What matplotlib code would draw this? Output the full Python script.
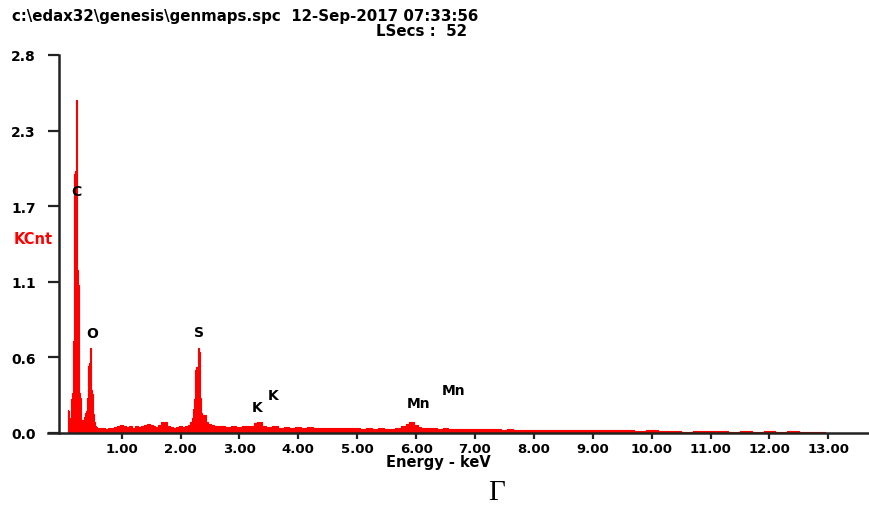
import matplotlib.pyplot as plt

# EDS spectrum (energy in keV, counts in KCnt)
energy = [0.08, 0.09, 0.10, 0.11, 0.12, 0.13, 0.14, 0.15, 0.16, 0.17,
          0.18, 0.19, 0.20, 0.21, 0.22, 0.23, 0.24, 0.25, 0.26, 0.27,
          0.28, 0.29, 0.30, 0.31, 0.32, 0.33, 0.34, 0.35, 0.36, 0.37,
          0.38, 0.39, 0.40, 0.41, 0.42, 0.43, 0.44, 0.45, 0.46, 0.47,
          0.48, 0.49, 0.50, 0.51, 0.52, 0.53, 0.54, 0.55, 0.56, 0.58,
          0.60, 0.65, 0.70, 0.75, 0.80, 0.85, 0.90, 0.95, 1.00, 1.05,
          1.10, 1.15, 1.20, 1.25, 1.30, 1.35, 1.40, 1.45, 1.50, 1.55,
          1.60, 1.65, 1.70, 1.75, 1.80, 1.85, 1.90, 1.95, 2.00, 2.05,
          2.10, 2.15, 2.18, 2.20, 2.22, 2.24, 2.26, 2.28, 2.30, 2.32,
          2.34, 2.36, 2.38, 2.40, 2.45, 2.50, 2.55, 2.60, 2.70, 2.80,
          2.90, 3.00, 3.10, 3.20, 3.28, 3.32, 3.36, 3.40, 3.50, 3.60,
          3.70, 3.80, 3.90, 4.00, 4.10, 4.20, 4.30, 4.40, 4.50, 4.60,
          4.70, 4.80, 4.90, 5.00, 5.10, 5.20, 5.30, 5.40, 5.50, 5.60,
          5.70, 5.80, 5.86, 5.90, 5.94, 6.00, 6.05, 6.10, 6.20, 6.30,
          6.40, 6.50, 6.60, 6.70, 6.80, 6.90, 7.00, 7.10, 7.20, 7.30,
          7.40, 7.50, 7.60, 7.70, 7.80, 7.90, 8.00, 8.20, 8.40, 8.60,
          8.80, 9.00, 9.20, 9.40, 9.60, 9.80, 10.00, 10.20, 10.40, 10.60,
          10.80, 11.00, 11.20, 11.40, 11.60, 11.80, 12.00, 12.20, 12.40, 12.60,
          12.80, 12.90, 13.00]
counts = [0.00, 0.17, 0.16, 0.10, 0.11, 0.09, 0.24, 0.25, 0.22, 0.30,
          0.68, 0.70, 1.92, 1.94, 1.90, 2.47, 2.45, 1.21, 1.19, 1.10,
          0.30, 0.28, 0.26, 0.12, 0.10, 0.09, 0.10, 0.10, 0.11, 0.12,
          0.15, 0.14, 0.16, 0.25, 0.26, 0.24, 0.50, 0.52, 0.55, 0.63,
          0.62, 0.32, 0.31, 0.29, 0.14, 0.12, 0.08, 0.06, 0.05, 0.045,
          0.040, 0.040, 0.035, 0.030, 0.035, 0.040, 0.045, 0.050, 0.060, 0.055,
          0.045, 0.050, 0.040, 0.050, 0.045, 0.055, 0.060, 0.065, 0.060, 0.050,
          0.045, 0.060, 0.085, 0.080, 0.050, 0.045, 0.040, 0.045, 0.050, 0.045,
          0.055, 0.060, 0.085, 0.11, 0.18, 0.25, 0.47, 0.49, 0.63, 0.60,
          0.26, 0.15, 0.10, 0.13, 0.08, 0.07, 0.06, 0.05, 0.05, 0.045,
          0.050, 0.045, 0.050, 0.055, 0.075, 0.085, 0.080, 0.055, 0.045, 0.050,
          0.040, 0.045, 0.040, 0.045, 0.040, 0.042, 0.038, 0.040, 0.036, 0.040,
          0.035, 0.038, 0.034, 0.036, 0.032, 0.035, 0.030, 0.034, 0.030, 0.032,
          0.035, 0.050, 0.070, 0.085, 0.080, 0.060, 0.045, 0.038, 0.034, 0.036,
          0.032, 0.035, 0.030, 0.032, 0.030, 0.028, 0.030, 0.027, 0.029, 0.026,
          0.028, 0.025, 0.026, 0.024, 0.025, 0.023, 0.024, 0.022, 0.023, 0.021,
          0.022, 0.020, 0.021, 0.019, 0.020, 0.018, 0.019, 0.015, 0.018, 0.010,
          0.016, 0.012, 0.015, 0.008, 0.014, 0.010, 0.013, 0.008, 0.012, 0.009,
          0.010, 0.006, 0.000]

# peak labels: element, energy, height
peak_names = ['C', 'O', 'S', 'K', 'K', 'Mn', 'Mn']
peak_x = [0.24, 0.50, 2.32, 3.30, 3.58, 6.05, 6.63]
peak_y = [1.79, 0.74, 0.75, 0.19, 0.28, 0.22, 0.32]

y_ticks = [0.0, 0.56, 1.12, 1.68, 2.24, 2.8]
y_labels = ['0.0', '0.6', '1.1', '1.7', '2.3', '2.8']
x_ticks = [1, 2, 3, 4, 5, 6, 7, 8, 9, 10, 11, 12, 13]
x_labels = ['1.00', '2.00', '3.00', '4.00', '5.00', '6.00', '7.00',
            '8.00', '9.00', '10.00', '11.00', '12.00', '13.00']

plt.rcParams['font.family'] = ['DejaVu Sans']
plt.rcParams['font.weight'] = 'bold'

fig = plt.figure(figsize=(8.69, 5.10), dpi=100)
ax = fig.add_axes([48 / 869, 1 - 434 / 510, 821 / 869, 378 / 510])

ax.fill_between(energy, counts, step='mid', color='#ff0000', lw=0)
ax.plot(energy, counts, drawstyle='steps-mid', color='#ff0000', lw=0.8)

for name, px, py in zip(peak_names, peak_x, peak_y):
    ax.text(px, py, name, ha='center', va='center', fontsize=10,
            fontweight='bold', color='black')

ax.set_xlim(-0.25, 13.69)
ax.set_ylim(0, 2.8)

ax.spines['top'].set_visible(False)
ax.spines['right'].set_visible(False)
ax.spines['left'].set_position(('data', -0.065))
ax.spines['left'].set_linewidth(1.8)
ax.spines['bottom'].set_linewidth(1.8)
ax.spines['left'].set_color('#222222')
ax.spines['bottom'].set_color('#222222')

ax.set_yticks(y_ticks)
ax.set_yticklabels(y_labels, fontsize=10, fontweight='bold')
ax.set_xticks(x_ticks)
ax.set_xticklabels(x_labels, fontsize=9.5, fontweight='bold')
ax.tick_params(axis='y', length=8, width=1.6, pad=8.5, color='#222222')
ax.tick_params(axis='x', length=4, width=1.6, pad=2.5, color='#222222')

fig.text(12 / 869, 1 - 17 / 510, 'c:\\edax32\\genesis\\genmaps.spc  12-Sep-2017 07:33:56',
         fontsize=10.8, fontweight='bold', va='center', ha='left')
fig.text(376 / 869, 1 - 31 / 510, 'LSecs :  52', fontsize=10.8,
         fontweight='bold', va='center', ha='left')
fig.text(33 / 869, 1 - 240 / 510, 'KCnt', fontsize=10.5, fontweight='bold',
         color='#ff0000', va='center', ha='center')
fig.text(438 / 869, 1 - 463 / 510, 'Energy - keV', fontsize=10.5,
         fontweight='bold', va='center', ha='center')
fig.text(497 / 869, 1 - 493 / 510, 'Γ', fontsize=21, fontweight='normal',
         family='Liberation Serif', va='center', ha='center')

fig.savefig('out.png', dpi=100)
